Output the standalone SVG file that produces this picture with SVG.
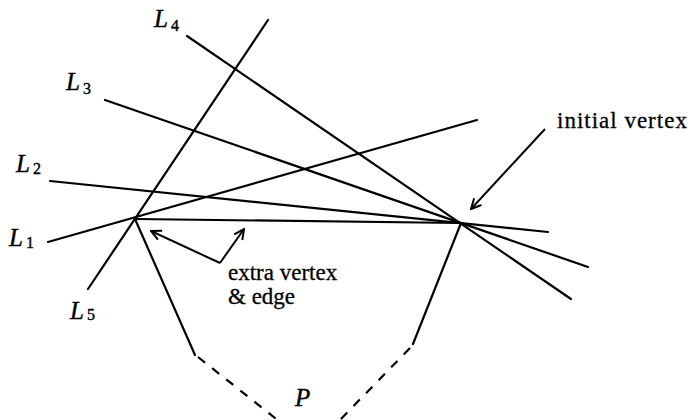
<svg xmlns="http://www.w3.org/2000/svg" width="692" height="420" viewBox="0 0 692 420">
<style>
.ln{stroke:#000;stroke-width:2.2;fill:none;stroke-linecap:round}
.ds{stroke:#000;stroke-width:2.2;fill:none;stroke-dasharray:9,9}
.ar{stroke:#000;stroke-width:2;fill:none;marker-end:url(#ah)}
.lb{font-family:"Liberation Serif","Times New Roman",serif;font-style:italic;font-size:25px;fill:#000;stroke:#000;stroke-width:0.4}
.sb{font-size:16px;font-style:normal}
.tx{font-family:"Liberation Serif","Times New Roman",serif;font-size:23px;fill:#000;stroke:#000;stroke-width:0.3}
</style>
<defs>
<marker id="ah" viewBox="0 0 12 12" refX="11" refY="6" markerWidth="12" markerHeight="12" markerUnits="userSpaceOnUse" orient="auto">
<path d="M1,1 L11,6 L1,11" fill="none" stroke="#000" stroke-width="2"/>
</marker>
</defs>
<g id="connectors">
<line class="ln" x1="48" y1="242" x2="477" y2="120"/>
<line class="ln" x1="50" y1="181" x2="548" y2="232"/>
<line class="ln" x1="105" y1="100" x2="588" y2="267"/>
<line class="ln" x1="187" y1="36" x2="571" y2="299"/>
<line class="ln" x1="88" y1="289" x2="268" y2="20"/>
<line class="ln" x1="135" y1="219" x2="461" y2="223"/>
<polyline class="ln" points="135,219 195,355"/>
<polyline class="ln" points="461,223 413,344"/>
<line class="ds" x1="198" y1="357" x2="280" y2="422"/>
<line class="ds" x1="410" y1="348" x2="338" y2="422"/>
<line class="ar" x1="545" y1="129" x2="471" y2="209"/>
<line class="ar" x1="220" y1="263" x2="151" y2="231"/>
<line class="ar" x1="220" y1="263" x2="244" y2="229"/>
</g>
<g id="L4"><text class="lb" x="154" y="27">L<tspan class="sb" dx="3" dy="4">4</tspan></text></g>
<g id="L3"><text class="lb" x="66" y="90">L<tspan class="sb" dx="3" dy="4">3</tspan></text></g>
<g id="L2"><text class="lb" x="16" y="172">L<tspan class="sb" dx="3" dy="2">2</tspan></text></g>
<g id="L1"><text class="lb" x="9" y="246">L<tspan class="sb" dx="3" dy="2">1</tspan></text></g>
<g id="L5"><text class="lb" x="70" y="319">L<tspan class="sb" dx="3" dy="1">5</tspan></text></g>
<g id="P"><text class="lb" x="295" y="406">P</text></g>
<g id="initial"><text class="tx" x="557" y="128" letter-spacing="1">initial vertex</text></g>
<g id="extra"><text class="tx" x="228" y="280">extra vertex</text><text class="tx" x="228" y="304">&amp; edge</text></g>
</svg>
